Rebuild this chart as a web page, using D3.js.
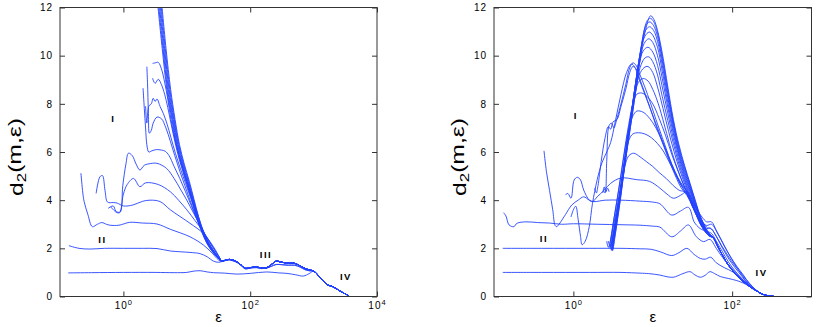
<!DOCTYPE html>
<html>
<head>
<meta charset="utf-8">
<script src="https://cdn.jsdelivr.net/npm/d3@7"></script>
<style>
  body { margin: 0; background: #fff; }
  svg { display: block; }
  text { font-family: "Liberation Sans", Arial, sans-serif; fill: #000; }
</style>
</head>
<body>
<svg id="chart" width="817" height="327"></svg>
<script>
// every curve is a list of [log10(eps), d2] pairs

// ---------- left panel ----------
const tailLeft = [[1.55,1.47],[1.62,1.52],[1.68,1.54],[1.74,1.5],[1.79,1.44],[1.86,1.3],[1.92,1.17],[2.0,1.2],[2.1,1.22],[2.18,1.19],[2.26,1.2],[2.33,1.32],[2.41,1.47],[2.48,1.43],[2.55,1.4],[2.63,1.4],[2.71,1.37],[2.79,1.27],[2.86,1.17],[2.93,1.1],[3.0,1.06],[3.1,0.8],[3.21,0.5],[3.31,0.4],[3.42,0.22],[3.55,0.04]];
const tailLeftLow = [[1.55,1.45],[1.62,1.5],[1.68,1.52],[1.74,1.47],[1.79,1.42],[1.86,1.28],[1.92,1.15],[2.0,1.18],[2.1,1.2],[2.18,1.16],[2.26,1.18],[2.33,1.25],[2.41,1.33],[2.5,1.32],[2.6,1.3],[2.7,1.3],[2.79,1.22],[2.86,1.12],[2.93,1.07],[3.0,1.05]];

const leftM1 = [[-0.87,0.98],[-0.5,0.99],[0,1.0],[0.5,1.0],[0.8,0.99],[1.0,1.0],[1.1,1.05],[1.21,1.07],[1.32,1.02],[1.42,0.99],[1.6,0.97],[1.79,0.93],[2.0,0.96],[2.26,1.02],[2.45,0.98],[2.58,0.96],[2.72,0.9],[2.84,0.85],[2.93,0.95],[3.0,1.05]];
const leftM2 = [[-0.86,2.11],[-0.7,2.0],[-0.53,1.97],[-0.3,2.0],[0,2.0],[0.3,2.0],[0.53,1.99],[0.74,1.89],[1.05,1.83],[1.21,1.78],[1.32,1.65],[1.42,1.47],[1.5,1.42]];
const leftM3 = [[-0.67,5.12],[-0.64,4.3],[-0.62,3.95],[-0.56,3.4],[-0.49,2.9],[-0.41,3.0],[-0.34,3.07],[-0.27,3.0],[-0.21,2.96],[-0.07,2.96],[0.1,3.08],[0.3,3.05],[0.53,3.01],[0.74,2.79],[1.05,2.48],[1.26,2.14],[1.4,1.8],[1.5,1.52]];
const leftM4 = [[-0.43,4.28],[-0.37,4.97],[-0.33,5.02],[-0.29,4.4],[-0.25,3.92],[-0.16,3.9],[-0.1,3.88],[0.0,3.76],[0.15,3.8],[0.3,3.95],[0.42,4.0],[0.58,3.94],[0.74,3.6],[1.05,3.04],[1.26,2.62],[1.42,2.07],[1.52,1.6]];
const leftM5 = [[-0.24,3.66],[-0.16,3.76],[-0.12,3.55],[-0.06,3.5],[0.0,4.25],[0.06,4.65],[0.16,4.9],[0.26,4.56],[0.35,4.72],[0.55,4.65],[0.74,4.35],[0.87,4.0],[1.0,3.6],[1.13,3.15],[1.26,2.69],[1.4,2.1],[1.52,1.6]];
const leftM6 = [[-0.2,3.72],[-0.15,3.58],[-0.1,3.48],[-0.05,3.5],[-0.01,4.6],[0.04,5.5],[0.08,5.95],[0.14,5.85],[0.2,5.5],[0.26,5.25],[0.33,5.45],[0.43,5.52],[0.53,5.53],[0.68,5.32],[0.8,4.9],[0.89,4.5],[1.0,4.0],[1.1,3.5],[1.2,3.0],[1.31,2.48],[1.42,2.0],[1.52,1.6]];
const leftM7 = [[0.31,8.65],[0.33,7.8],[0.35,7.0],[0.37,6.3],[0.4,6.0],[0.45,6.05],[0.52,6.1],[0.6,6.08],[0.66,6.03],[0.72,5.85],[0.8,5.4],[0.89,4.9],[0.98,4.35],[1.07,3.78],[1.16,3.2],[1.25,2.68],[1.34,2.2],[1.43,1.85],[1.55,1.47]];
const leftM8 = [[0.37,9.54],[0.38,8.9],[0.395,7.6],[0.41,6.78],[0.44,6.9],[0.47,7.2],[0.53,7.45],[0.6,7.38],[0.67,7.0],[0.74,6.45],[0.81,5.85],[0.89,5.2],[0.97,4.6],[1.05,4.0],[1.13,3.42],[1.21,2.88],[1.29,2.42],[1.38,2.02],[1.46,1.72],[1.55,1.47]];
const leftM9 = [[0.35,7.9],[0.37,7.2],[0.4,7.9],[0.44,8.0],[0.47,8.23],[0.5,8.1],[0.53,8.2],[0.58,7.88],[0.63,7.6],[0.69,7.15],[0.75,6.6],[0.82,5.95],[0.9,5.3],[0.98,4.7],[1.06,4.1],[1.14,3.5],[1.22,2.95],[1.3,2.48],[1.38,2.08],[1.46,1.75],[1.55,1.47]];
const leftM10 = [[0.46,9.06],[0.5,8.85],[0.55,9.02],[0.6,8.8],[0.65,8.4],[0.7,7.85],[0.75,7.2],[0.81,6.45],[0.88,5.7],[0.96,5.0],[1.04,4.35],[1.12,3.7],[1.2,3.05],[1.28,2.55],[1.36,2.12],[1.45,1.78],[1.55,1.47]];
const leftM11 = [[0.46,9.68],[0.5,9.7],[0.55,9.72],[0.6,9.45],[0.65,8.9],[0.7,8.2],[0.75,7.35],[0.82,6.45],[0.89,5.75],[0.97,5.05],[1.05,4.4],[1.13,3.75],[1.21,3.1],[1.28,2.6],[1.36,2.15],[1.45,1.8],[1.55,1.47]];
const leftM12 = [[0.535,12.3],[0.612,10.3],[0.685,8.6],[0.765,7.35],[0.835,6.3],[0.91,5.5],[0.99,4.78],[1.075,4.02],[1.15,3.32],[1.23,2.72],[1.31,2.24],[1.385,1.92],[1.475,1.64],[1.55,1.47]];
const leftM13 = [[0.548,12.3],[0.624,10.3],[0.697,8.6],[0.775,7.35],[0.845,6.3],[0.92,5.5],[1.0,4.78],[1.083,4.02],[1.157,3.32],[1.235,2.72],[1.314,2.24],[1.39,1.92],[1.48,1.64],[1.55,1.47]];
const leftM14 = [[0.561,12.3],[0.636,10.3],[0.709,8.6],[0.785,7.35],[0.855,6.3],[0.93,5.5],[1.01,4.78],[1.091,4.02],[1.164,3.32],[1.24,2.72],[1.318,2.24],[1.395,1.92],[1.485,1.64],[1.55,1.47]];
const leftM15 = [[0.574,12.3],[0.648,10.3],[0.721,8.6],[0.795,7.35],[0.865,6.3],[0.94,5.5],[1.02,4.78],[1.099,4.02],[1.171,3.32],[1.245,2.72],[1.322,2.24],[1.4,1.92],[1.49,1.64],[1.55,1.47]];
const leftM16 = [[0.587,12.3],[0.66,10.3],[0.733,8.6],[0.805,7.35],[0.875,6.3],[0.95,5.5],[1.03,4.78],[1.107,4.02],[1.178,3.32],[1.25,2.72],[1.326,2.24],[1.405,1.92],[1.49,1.64],[1.55,1.47]];
const leftM17 = [[0.6,12.3],[0.672,10.3],[0.745,8.6],[0.815,7.35],[0.885,6.3],[0.96,5.5],[1.04,4.78],[1.115,4.02],[1.185,3.32],[1.255,2.72],[1.33,2.24],[1.41,1.92],[1.49,1.64],[1.55,1.47]];

// ---------- right panel ----------
const tailRight = [[2.22,0.42],[2.3,0.25],[2.38,0.1],[2.45,0.03],[2.53,0.0]];
const shoulderRight = [[1.76,2.45],[1.82,2.08],[1.9,1.58],[1.98,1.18],[2.06,0.88],[2.14,0.62]];

const rightM1 = [[-0.89,1.0],[-0.4,1.0],[0.2,1.0],[0.6,1.0],[0.84,0.97],[0.95,0.95],[1.09,0.89],[1.18,0.82],[1.26,0.8],[1.38,0.95],[1.47,1.03],[1.53,0.9],[1.6,0.8],[1.66,0.88],[1.72,1.03],[1.78,0.95],[1.85,0.83],[1.95,0.75],[2.06,0.66],[2.14,0.56],[2.22,0.42]];
const rightM2 = [[-0.89,2.0],[-0.4,2.0],[0.2,2.0],[0.6,2.0],[0.84,1.98],[0.98,1.96],[1.1,1.85],[1.24,1.7],[1.33,1.82],[1.43,2.0],[1.52,1.75],[1.6,1.58],[1.66,1.55],[1.73,1.63],[1.8,1.4],[1.9,1.2],[2.01,1.02],[2.1,0.78],[2.2,0.5]];
const rightM3 = [[-0.88,3.48],[-0.85,3.35],[-0.81,2.97],[-0.75,2.9],[-0.71,3.04],[-0.6,3.1],[-0.45,3.07],[-0.3,3.05],[-0.15,3.0],[0,3.02],[0.3,3.0],[0.6,2.98],[0.84,2.96],[1.0,2.92],[1.09,2.88],[1.24,2.48],[1.35,2.72],[1.45,2.97],[1.55,2.48],[1.64,2.28],[1.72,2.37],[1.8,2.0],[1.88,1.62],[1.98,1.22],[2.06,0.95],[2.14,0.68],[2.22,0.45]];
const rightM4 = [[-0.37,6.05],[-0.34,5.2],[-0.3,4.4],[-0.26,3.6],[-0.23,2.95],[-0.21,2.9],[-0.17,3.05],[-0.1,3.4],[-0.02,3.8],[0.06,4.0],[0.13,4.14],[0.2,4.0],[0.26,3.94],[0.4,4.0],[0.6,4.0],[0.84,3.96],[1.0,3.92],[1.09,3.85],[1.24,3.38],[1.35,3.55],[1.45,3.7],[1.53,3.05],[1.64,2.75],[1.72,2.85],[1.8,2.5],[1.87,2.1],[1.95,1.68],[2.03,1.3],[2.1,1.02],[2.18,0.7],[2.26,0.4],[2.32,0.22]];
const rightM5 = [[-0.1,4.22],[-0.07,4.28],[-0.03,4.08],[0.01,4.84],[0.05,4.95],[0.09,4.84],[0.13,4.42],[0.2,4.0],[0.24,3.94],[0.3,4.14],[0.39,4.42],[0.47,4.7],[0.6,4.92],[0.8,4.85],[0.96,4.78],[1.09,4.5],[1.18,4.25],[1.26,4.08],[1.35,4.2],[1.43,4.35],[1.49,3.8],[1.6,3.15],[1.68,2.95],[1.74,3.0],[1.82,2.6],[1.9,2.1],[1.98,1.65],[2.06,1.25],[2.14,0.9],[2.22,0.52],[2.3,0.27]];

// early jagged curves left of the peak
const rightE1 = [[-0.03,3.3],[0.0,3.6],[0.03,3.75],[0.06,3.2],[0.09,2.5],[0.11,2.15],[0.15,2.3],[0.2,2.9],[0.24,3.85],[0.3,4.85],[0.36,5.55],[0.42,6.0],[0.47,6.4],[0.53,7.3],[0.6,8.4],[0.67,9.3],[0.73,9.65],[0.77,9.55],[0.82,9.1],[0.9,8.4],[0.98,7.7],[1.06,7.0],[1.14,6.3],[1.22,5.6],[1.3,5.0],[1.37,4.55],[1.44,4.2],[1.51,3.75],[1.58,3.25],[1.64,2.9],[1.7,2.62],[1.76,2.45]];
const rightE2 = [[0.38,4.4],[0.4,4.3],[0.42,5.6],[0.45,7.1],[0.48,7.2],[0.51,7.0],[0.55,7.4],[0.6,8.0],[0.66,8.8],[0.71,9.5],[0.75,9.7],[0.79,9.6],[0.84,9.2],[0.9,8.7],[0.97,8.05],[1.04,7.35],[1.12,6.6],[1.2,5.85],[1.28,5.15],[1.36,4.6],[1.43,4.25],[1.5,3.8],[1.57,3.3],[1.63,2.92],[1.69,2.65],[1.76,2.45]];
const rightE3 = [[0.27,4.5],[0.29,4.3],[0.31,4.6],[0.35,5.6],[0.4,6.6],[0.44,7.05],[0.47,6.95],[0.5,7.25],[0.55,7.35],[0.6,7.9],[0.66,8.6],[0.71,9.3],[0.75,9.55],[0.79,9.45],[0.84,9.0],[0.9,8.45],[0.97,7.8],[1.04,7.1],[1.12,6.4],[1.2,5.7],[1.28,5.05],[1.36,4.5],[1.43,4.2],[1.5,3.75],[1.57,3.25],[1.63,2.9],[1.69,2.63],[1.76,2.45]];
const rightW1 = [[0.37,4.3],[0.39,4.55],[0.41,4.35],[0.43,4.5],[0.45,4.35]];
const rightW2 = [[0.42,2.3],[0.44,2.05],[0.46,2.15],[0.48,1.92],[0.5,2.6]];

// the fan of curves rising to the peak near eps = 10
const rightF1 = [[0.47,2.05],[0.52,2.9],[0.57,3.9],[0.62,4.9],[0.66,5.55],[0.7,5.85],[0.76,5.95],[0.84,5.8],[0.92,5.6],[1.0,5.4],[1.08,5.15],[1.17,4.9],[1.26,4.6],[1.34,4.4],[1.41,4.35],[1.47,4.05],[1.55,3.65],[1.62,3.3],[1.68,3.1],[1.74,3.1],[1.8,2.75],[1.88,2.25],[1.96,1.75],[2.04,1.3],[2.12,0.9],[2.2,0.55],[2.28,0.3]];
const rightF2 = [[0.46,2.2],[0.51,3.0],[0.56,3.9],[0.61,4.9],[0.66,5.9],[0.7,6.5],[0.75,6.75],[0.82,6.8],[0.9,6.75],[0.98,6.6],[1.06,6.35],[1.14,6.0],[1.22,5.5],[1.3,5.0],[1.37,4.6],[1.43,4.4],[1.5,4.0],[1.57,3.5],[1.63,3.1],[1.69,2.85],[1.74,2.8],[1.8,2.5],[1.88,2.0],[1.96,1.55],[2.04,1.18],[2.12,0.85],[2.2,0.52],[2.28,0.29]];
const rightF3 = [[0.45,2.0],[0.5,3.0],[0.55,4.0],[0.6,5.0],[0.65,6.1],[0.7,7.0],[0.75,7.5],[0.8,7.7],[0.88,7.65],[0.96,7.4],[1.04,7.0],[1.12,6.45],[1.2,5.8],[1.28,5.2],[1.35,4.75],[1.42,4.4],[1.49,3.95],[1.56,3.4],[1.62,3.0],[1.68,2.72],[1.74,2.62],[1.8,2.3],[1.88,1.85],[1.96,1.4],[2.04,1.05],[2.12,0.75],[2.2,0.48],[2.28,0.27]];
const rightF4 = [[0.44,2.3],[0.46,2.1],[0.5,3.0],[0.55,4.0],[0.6,5.1],[0.65,6.2],[0.7,7.2],[0.75,8.0],[0.8,8.4],[0.86,8.45],[0.93,8.3],[1.0,8.0],[1.08,7.4],[1.16,6.7],[1.24,5.9],[1.32,5.2],[1.4,4.55],[1.47,4.0],[1.54,3.45],[1.6,3.0],[1.66,2.7],[1.72,2.5],[1.76,2.45]];
const rightF5 = [[0.47,2.0],[0.52,3.0],[0.57,4.0],[0.62,5.1],[0.67,6.2],[0.72,7.3],[0.77,8.3],[0.82,8.9],[0.88,9.05],[0.94,8.95],[1.0,8.6],[1.07,8.0],[1.14,7.2],[1.21,6.35],[1.28,5.6],[1.35,4.95],[1.42,4.4],[1.49,3.85],[1.56,3.3],[1.62,2.9],[1.68,2.62],[1.73,2.48],[1.76,2.45]];
const rightF6 = [[0.48,1.95],[0.53,3.0],[0.58,4.05],[0.63,5.2],[0.68,6.3],[0.73,7.4],[0.78,8.5],[0.83,9.2],[0.89,9.5],[0.94,9.55],[1.0,9.3],[1.06,8.7],[1.13,7.8],[1.2,6.85],[1.27,6.0],[1.34,5.25],[1.41,4.6],[1.48,4.0],[1.55,3.4],[1.61,2.95],[1.67,2.65],[1.72,2.5],[1.76,2.45]];
const rightF7 = [[0.49,1.9],[0.54,3.0],[0.59,4.1],[0.64,5.25],[0.69,6.4],[0.74,7.5],[0.79,8.6],[0.84,9.5],[0.9,9.9],[0.95,9.95],[1.0,9.75],[1.06,9.2],[1.12,8.3],[1.19,7.3],[1.26,6.35],[1.33,5.5],[1.4,4.8],[1.47,4.15],[1.54,3.5],[1.6,3.05],[1.66,2.7],[1.72,2.5],[1.76,2.45]];
const rightF8 = [[0.48,2.1],[0.53,3.05],[0.58,4.1],[0.63,5.25],[0.68,6.45],[0.73,7.6],[0.78,8.7],[0.83,9.65],[0.88,10.2],[0.94,10.35],[1.0,10.15],[1.06,9.6],[1.12,8.7],[1.19,7.6],[1.26,6.55],[1.33,5.65],[1.4,4.9],[1.47,4.25],[1.54,3.6],[1.6,3.1],[1.66,2.75],[1.72,2.52],[1.76,2.45]];
const rightF9 = [[0.49,2.0],[0.54,3.05],[0.59,4.15],[0.64,5.35],[0.69,6.55],[0.74,7.7],[0.79,8.8],[0.84,9.8],[0.89,10.5],[0.95,10.7],[1.0,10.55],[1.06,10.0],[1.12,9.05],[1.19,7.85],[1.26,6.75],[1.33,5.8],[1.4,5.0],[1.47,4.35],[1.54,3.7],[1.6,3.15],[1.66,2.78],[1.72,2.53],[1.76,2.45]];
const rightF10 = [[0.485,1.95],[0.535,3.0],[0.585,4.1],[0.635,5.35],[0.685,6.6],[0.735,7.75],[0.785,8.9],[0.835,9.95],[0.9,10.8],[0.955,10.98],[1.0,10.85],[1.06,10.35],[1.12,9.35],[1.19,8.05],[1.26,6.9],[1.33,5.9],[1.4,5.1],[1.47,4.42],[1.54,3.75],[1.6,3.2],[1.66,2.8],[1.72,2.54],[1.76,2.45]];
const rightF11 = [[0.49,2.05],[0.54,3.1],[0.59,4.2],[0.64,5.45],[0.69,6.7],[0.74,7.85],[0.79,9.0],[0.84,10.05],[0.91,11.05],[0.96,11.2],[1.01,11.05],[1.06,10.6],[1.12,9.6],[1.19,8.25],[1.26,7.05],[1.33,6.0],[1.4,5.2],[1.47,4.5],[1.54,3.8],[1.6,3.25],[1.66,2.82],[1.72,2.55],[1.76,2.45]];
const rightF12 = [[0.495,1.9],[0.545,3.0],[0.595,4.15],[0.645,5.45],[0.695,6.75],[0.745,7.95],[0.795,9.1],[0.845,10.15],[0.92,11.3],[0.965,11.4],[1.01,11.25],[1.06,10.8],[1.12,9.8],[1.19,8.4],[1.26,7.15],[1.33,6.1],[1.4,5.3],[1.47,4.58],[1.54,3.85],[1.6,3.28],[1.66,2.85],[1.72,2.56],[1.76,2.45]];
const rightF13 = [[0.49,2.2],[0.54,3.2],[0.59,4.3],[0.645,5.6],[0.7,6.9],[0.75,8.05],[0.8,9.2],[0.85,10.3],[0.93,11.45],[0.97,11.55],[1.01,11.42],[1.06,10.95],[1.12,9.95],[1.19,8.55],[1.26,7.25],[1.33,6.2],[1.4,5.38],[1.47,4.65],[1.54,3.9],[1.6,3.3],[1.66,2.87],[1.72,2.57],[1.76,2.45]];
const rightF14 = [[0.5,1.95],[0.55,3.05],[0.6,4.2],[0.65,5.5],[0.71,6.85],[0.76,7.95],[0.8,8.9],[0.84,9.85],[0.88,10.65],[0.92,11.2],[0.95,11.55],[0.975,11.66],[1.015,11.5],[1.06,11.05],[1.12,10.1],[1.19,8.7],[1.26,7.35],[1.33,6.3],[1.4,5.45],[1.47,4.7],[1.54,3.95],[1.6,3.33],[1.66,2.9],[1.72,2.58],[1.76,2.45]];

// text marks inside the plots, placed at [log10(eps), d2]
const leftNotes = [["I",-0.16,7.41],["II",-0.33,2.35],["III",2.25,1.76],["IV",3.51,0.83]];
const rightNotes = [["I",0.03,7.5],["II",-0.37,2.39],["IV",2.37,0.98]];

const yTickValues = [0, 2, 4, 6, 8, 10, 12];

// glue a curve to the shared pieces that follow it
function join(pts, ...pieces) {
  let out = pts.slice();
  for (const p of pieces) {
    const last = out[out.length - 1][0];
    out = out.concat(p.filter(q => q[0] > last + 0.005));
  }
  return out;
}

const leftCurves = [
  join(leftM1, tailLeft),
  join(leftM2, tailLeftLow, tailLeft),
  join(leftM3, tailLeftLow, tailLeft),
  ...[leftM4, leftM5, leftM6, leftM7, leftM8, leftM9, leftM10, leftM11,
      leftM12, leftM13, leftM14, leftM15, leftM16, leftM17].map(c => join(c, tailLeft))
];

const rightCurves = [
  ...[rightM1, rightM2, rightM3, rightM4, rightM5, rightF1, rightF2, rightF3].map(c => join(c, tailRight)),
  ...[rightE1, rightE2, rightE3, rightF4, rightF5, rightF6, rightF7, rightF8, rightF9,
      rightF10, rightF11, rightF12, rightF13, rightF14].map(c => join(c, shoulderRight, tailRight)),
  rightW1, rightW2
];

// layout
const svg = d3.select("#chart");
const plotTop = 7.5, plotBottom = 296.5;
const lineColor = "#2443ff";

const panels = [
  { id: "l", left: 60, right: 377, xDomain: [0.1, 1e4], xTicks: [1, 100, 1e4], curves: leftCurves, notes: leftNotes, yLabelX: 16 },
  { id: "r", left: 494, right: 811.5, xDomain: [0.1, 1e3], xTicks: [1, 100], curves: rightCurves, notes: rightNotes, yLabelX: 459 }
];

const y = d3.scaleLinear().domain([0, 12]).range([plotBottom, plotTop]);

panels.forEach(p => {
  const x = d3.scaleLog().domain(p.xDomain).range([p.left, p.right]);
  const g = svg.append("g");

  g.append("clipPath").attr("id", "clip-" + p.id)
    .append("rect")
    .attr("x", p.left).attr("y", plotTop)
    .attr("width", p.right - p.left).attr("height", plotBottom - plotTop);

  const line = d3.line()
    .x(d => x(Math.pow(10, d[0])))
    .y(d => y(d[1]))
    .curve(d3.curveCatmullRom.alpha(0.5));

  g.append("g")
    .attr("clip-path", "url(#clip-" + p.id + ")")
    .selectAll("path")
    .data(p.curves)
    .join("path")
    .attr("d", line)
    .attr("fill", "none")
    .attr("stroke", lineColor)
    .attr("stroke-width", 0.9);

  // axes with inward ticks on all four sides
  const bottom = g.append("g")
    .attr("transform", `translate(0,${plotBottom})`)
    .call(d3.axisBottom(x).tickValues(p.xTicks).tickSizeInner(-5).tickSizeOuter(0).tickPadding(5));
  bottom.selectAll(".tick text")
    .attr("font-size", "10px")
    .attr("letter-spacing", "1px")
    .each(function(d) {
      const t = d3.select(this);
      t.text("10");
      t.append("tspan")
        .attr("dy", "-0.5em")
        .attr("font-size", "7.5px")
        .text(Math.round(Math.log10(d)));
    });

  g.append("g")
    .attr("transform", `translate(0,${plotTop})`)
    .call(d3.axisTop(x).tickValues(p.xTicks).tickSizeInner(-5).tickSizeOuter(0).tickFormat(""));

  g.append("g")
    .attr("transform", `translate(${p.left},0)`)
    .call(d3.axisLeft(y).tickValues(yTickValues).tickSizeInner(-5).tickSizeOuter(0).tickPadding(7))
    .selectAll(".tick text")
    .attr("font-size", "10px")
    .attr("letter-spacing", "1px");

  g.append("g")
    .attr("transform", `translate(${p.right},0)`)
    .call(d3.axisRight(y).tickValues(yTickValues).tickSizeInner(-5).tickSizeOuter(0).tickFormat(""));

  g.selectAll(".domain").remove();
  g.selectAll(".tick line").attr("stroke", "#333");

  g.append("rect")
    .attr("x", p.left).attr("y", plotTop)
    .attr("width", p.right - p.left).attr("height", plotBottom - plotTop)
    .attr("fill", "none")
    .attr("stroke", "#333")
    .attr("stroke-width", 1);

  // roman numerals
  g.selectAll(".note")
    .data(p.notes)
    .join("text")
    .attr("class", "note")
    .attr("x", d => x(Math.pow(10, d[1])))
    .attr("y", d => y(d[2]))
    .attr("text-anchor", "middle")
    .attr("dominant-baseline", "central")
    .attr("font-size", "9.5px")
    .attr("font-weight", "bold")
    .attr("letter-spacing", "1.5px")
    .text(d => d[0]);

  // axis titles
  g.append("text")
    .attr("x", (p.left + p.right) / 2)
    .attr("y", 322)
    .attr("text-anchor", "middle")
    .attr("font-size", "15px")
    .text("ε");

  const yl = g.append("text")
    .attr("transform", `translate(${p.yLabelX},157) rotate(-90)`)
    .attr("text-anchor", "middle")
    .attr("dominant-baseline", "central")
    .attr("font-size", "19px")
    .attr("textLength", 78)
    .attr("lengthAdjust", "spacingAndGlyphs");
  yl.append("tspan").text("d");
  yl.append("tspan").attr("font-size", "13px").attr("dy", "0.35em").text("2");
  yl.append("tspan").attr("dy", "-0.35em").text("(m,ε)");
});
</script>
</body>
</html>
